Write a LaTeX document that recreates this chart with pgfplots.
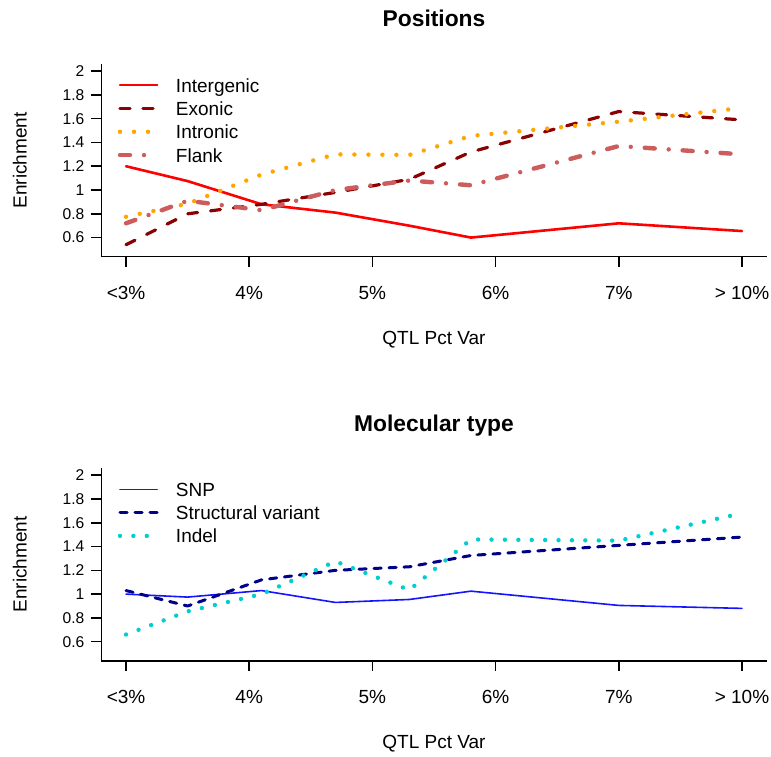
\documentclass[border=0pt]{standalone}
\usepackage{fontspec}
\setmainfont{Liberation Sans}
\usepackage{pgfplots}
\pgfplotsset{compat=1.18}
\usepackage{pgfplotstable}

\definecolor{cInter}{RGB}{255,0,0}
\definecolor{cExon}{RGB}{139,0,0}
\definecolor{cIntron}{RGB}{255,165,0}
\definecolor{cFlank}{RGB}{205,92,92}
\definecolor{cSNP}{RGB}{20,20,255}
\definecolor{cSV}{RGB}{0,0,139}
\definecolor{cIndel}{RGB}{0,206,209}

% positions panel
\pgfplotstableread{
x    inter  exon  intron flank
0    1.200  0.540 0.775  0.720
0.5  1.075  0.800 0.885  0.910
1.1  0.880  0.880 1.130  0.830
1.7  0.810  0.980 1.300  1.000
2.3  0.700  1.090 1.295  1.080
2.8  0.600  1.320 1.455  1.040
4    0.720  1.660 1.575  1.370
5    0.655  1.590 1.690  1.300
}\posdata

% molecular type panel
\pgfplotstableread{
x    snp    sv     indel
0    1.000  1.030  0.660
0.5  0.975  0.900  0.855
1.1  1.030  1.120  1.000
1.7  0.930  1.200  1.275
2.3  0.955  1.230  1.035
2.8  1.025  1.325  1.460
4    0.905  1.410  1.450
5    0.880  1.480  1.680
}\moldata

\pgfplotsset{
  rplot/.style={
    scale only axis, width=332.6pt, height=96.3pt, anchor=south west,
    xmin=-0.2, xmax=5.2, ymin=0.44, ymax=2.06,
    axis x line*=bottom, axis y line*=left,
    axis line style={line width=0.8pt, -},
    tick style={line width=0.8pt, black},
    tick align=outside, major tick length=5pt,
    xtick={0,1,2,3,4,5},
    xticklabels={<3\%,4\%,5\%,6\%,7\%,> 10\%},
    ytick={0.6,0.8,1,1.2,1.4,1.6,1.8,2},
    yticklabels={0.6,0.8,1,1.2,1.4,1.6,1.8,2},
    /pgf/number format/assume math mode=true,
    xticklabel style={font=\fontsize{9.5}{11}\selectfont, anchor=base, yshift=-16.6pt},
    yticklabel style={font=\fontsize{7.8}{9}\selectfont},
    xlabel={QTL Pct Var}, ylabel={Enrichment},
    xlabel style={font=\fontsize{9.5}{11}\selectfont, at={(axis description cs:0.5,0)}, anchor=base, yshift=-44pt},
    ylabel style={font=\fontsize{9.5}{11}\selectfont, at={(axis description cs:0,0.5)}, anchor=center, yshift=40.8pt},
    title style={font=\fontsize{11.4}{13}\selectfont\bfseries, at={(axis description cs:0.5,1)}, anchor=base, yshift=12.5pt},
    legend cell align=left,
    legend image code/.code={\draw[##1] (0pt,1pt) -- (18.6pt,1pt);},
    legend style={at={(axis description cs:0,1)}, anchor=north west, draw=none, fill=none,
      inner xsep=8pt, inner ysep=6.9pt, font=\fontsize{9.5}{11}\selectfont,
      row sep=2.65pt, column sep=8.3pt,
      nodes={inner sep=0pt, text height=7pt, text depth=2pt}},
  },
  every axis plot/.append style={line join=round, line cap=round},
}

\begin{document}
\begin{tikzpicture}
\path[use as bounding box] (0,0) rectangle (385.5pt,378pt);

\begin{axis}[rplot, at={(50.7pt,249.7pt)}, title={Positions}]
  \addplot[cInter, line width=1.3pt] table[x=x, y=inter] {\posdata};
  \addlegendentry{Intergenic}
  \addplot[cExon, line width=1.6pt, dash pattern=on 5pt off 6.5pt] table[x=x, y=exon] {\posdata};
  \addlegendentry{Exonic}
  \addplot[cIntron, line width=2.2pt, dash pattern=on 0pt off 7pt] table[x=x, y=intron] {\posdata};
  \addlegendentry{Intronic}
  \addplot[cFlank, line width=2.2pt, dash pattern=on 5pt off 7pt on 0pt off 7pt] table[x=x, y=flank] {\posdata};
  \addlegendentry{Flank}
\end{axis}

\begin{axis}[rplot, at={(50.7pt,47.65pt)}, title={Molecular type}]
  \addplot[cSNP, line width=0.8pt] table[x=x, y=snp] {\moldata};
  \addlegendentry{SNP}
  \addplot[cSV, line width=1.5pt, dash pattern=on 3.6pt off 3.9pt] table[x=x, y=sv] {\moldata};
  \addlegendentry{Structural variant}
  \addplot[cIndel, line width=2.2pt, dash pattern=on 0pt off 6.7pt] table[x=x, y=indel] {\moldata};
  \addlegendentry{Indel}
\end{axis}
\end{tikzpicture}
\end{document}
